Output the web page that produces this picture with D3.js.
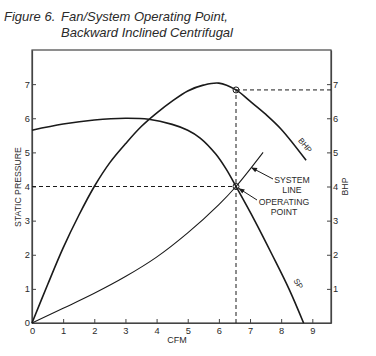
<!DOCTYPE html>
<html><head><meta charset="utf-8">
<script src="https://cdn.jsdelivr.net/npm/d3@7"></script>
<style>
body{margin:0;background:#fff;}
svg{display:block;font-family:"Liberation Sans",Arial,sans-serif;}
</style></head>
<body><svg id="c" width="376" height="356"></svg>
<script>
// ---- data ----
const xTicks = [0,1,2,3,4,5,6,7,8,9];
const leftTicks = [0,1,2,3,4,5,6,7];
const rightTicks = [1,2,3,4,5,6,7];
const spX  = [0,1,2,3,3.75,4.5,5,5.4,5.9,6.24,6.55,7.15,7.71,8.25,8.72];
const spY  = [5.65,5.83,5.95,6.0,5.97,5.82,5.65,5.42,4.95,4.5,4.0,3.0,2.0,1.0,0];
const bhpX = [0,0.5,1,1.5,2,2.5,3,3.5,4,4.5,5,5.5,6,6.55,7,7.5,8,8.8];
const bhpY = [0,1.12,2.2,3.15,4.0,4.7,5.25,5.75,6.15,6.5,6.8,6.97,7.03,6.83,6.5,6.12,5.68,4.77];
const sysX = [0,1,2,3,4,5,6,6.55,7.42];
const sysY = [0,0.43,0.87,1.36,1.93,2.64,3.47,4.0,5.0];
const opCFM = 6.55, opSP = 4.0, opBHP = 6.83;
const titleLines = ["Figure 6.", "Fan/System Operating Point,", "Backward Inclined Centrifugal"];

// ---- layout ----
const svg = d3.select("#c");
const L = 32, R = 331, T = 50, B = 323;
const x = d3.scaleLinear().domain([0, 9.6]).range([L, R]);
const y = d3.scaleLinear().domain([0, 8]).range([B, T]);
const ink = "#1a1a1a", txt = "#2a2a2a";

// title
const tt = svg.append("g").attr("font-style","italic").attr("font-size",13).attr("fill",txt);
tt.append("text").attr("x",4).attr("y",21).text(titleLines[0]);
tt.append("text").attr("x",61).attr("y",21).text(titleLines[1]);
tt.append("text").attr("x",61).attr("y",37).text(titleLines[2]);

// frame
svg.append("rect").attr("x",L).attr("y",T).attr("width",R-L).attr("height",B-T)
  .attr("fill","none").attr("stroke","#444").attr("stroke-width",1.2);

// axes
const fs = 9.3;
const ax = svg.append("g").attr("transform",`translate(0,${B})`)
  .call(d3.axisBottom(x).tickValues(xTicks).tickFormat(d3.format("d")).tickSizeInner(-4).tickSizeOuter(0).tickPadding(4));
const ay = svg.append("g").attr("transform",`translate(${L},0)`)
  .call(d3.axisLeft(y).tickValues(leftTicks).tickFormat(d3.format("d")).tickSizeInner(-4).tickSizeOuter(0).tickPadding(2));
const ar = svg.append("g").attr("transform",`translate(${R},0)`)
  .call(d3.axisRight(y).tickValues(rightTicks).tickFormat(d3.format("d")).tickSizeInner(-4).tickSizeOuter(0).tickPadding(2));
[ax,ay,ar].forEach(g=>{
  g.select(".domain").attr("stroke","#444").attr("stroke-width",1.2);
  g.selectAll(".tick line").attr("stroke","#444");
  g.selectAll(".tick text").attr("font-size",fs).attr("fill",txt).attr("font-family","Liberation Sans, Arial, sans-serif");
});

// axis titles
svg.append("text").attr("x",177).attr("y",343).attr("text-anchor","middle")
  .attr("font-size",9).attr("fill",txt).text("CFM");
svg.append("text").attr("transform",`translate(21,187) rotate(-90)`)
  .attr("text-anchor","middle").attr("font-size",8.7).attr("fill",txt).text("STATIC PRESSURE");
svg.append("text").attr("transform",`translate(348,${y(4)}) rotate(-90)`)
  .attr("text-anchor","middle").attr("font-size",8.7).attr("fill",txt).text("BHP");

// dashed guides
const dash = "4,3";
svg.append("line").attr("x1",x(0)).attr("x2",x(opCFM)).attr("y1",y(opSP)).attr("y2",y(opSP))
  .attr("stroke",ink).attr("stroke-dasharray",dash);
svg.append("line").attr("x1",x(opCFM)).attr("x2",x(opCFM)).attr("y1",y(0)).attr("y2",y(opBHP))
  .attr("stroke",ink).attr("stroke-dasharray",dash);
svg.append("line").attr("x1",x(opCFM)).attr("x2",R).attr("y1",y(opBHP)).attr("y2",y(opBHP))
  .attr("stroke",ink).attr("stroke-dasharray",dash);

// curves
const line = d3.line().x(d=>x(d[0])).y(d=>y(d[1])).curve(d3.curveCatmullRom.alpha(0.5));
svg.append("path").attr("d", line(d3.zip(spX, spY))).attr("fill","none").attr("stroke",ink).attr("stroke-width",1.6);
svg.append("path").attr("d", line(d3.zip(bhpX, bhpY))).attr("fill","none").attr("stroke",ink).attr("stroke-width",1.6);
svg.append("path").attr("d", line(d3.zip(sysX, sysY))).attr("fill","none").attr("stroke",ink).attr("stroke-width",1.1);

// operating point circles
[opSP, opBHP].forEach(v=>{
  svg.append("circle").attr("cx",x(opCFM)).attr("cy",y(v)).attr("r",3)
    .attr("fill","none").attr("stroke",ink).attr("stroke-width",1);
});

// arrows
const defs = svg.append("defs");
defs.append("marker").attr("id","ah").attr("viewBox","0 0 10 10").attr("refX",9).attr("refY",5)
  .attr("markerWidth",7).attr("markerHeight",6).attr("orient","auto")
  .append("path").attr("d","M0,1 L10,5 L0,9 Z").attr("fill",ink);
svg.append("line").attr("x1",273).attr("y1",179).attr("x2",x(7.05)).attr("y2",y(4.55))
  .attr("stroke",ink).attr("stroke-width",1).attr("marker-end","url(#ah)");
svg.append("line").attr("x1",257).attr("y1",200).attr("x2",x(opCFM)+3).attr("y2",y(opSP)+2)
  .attr("stroke",ink).attr("stroke-width",1).attr("marker-end","url(#ah)");

// annotations
const an = svg.append("g").attr("font-size",8.7).attr("fill",txt).attr("text-anchor","middle");
an.append("text").attr("x",292).attr("y",183).text("SYSTEM");
an.append("text").attr("x",292).attr("y",193).text("LINE");
an.append("text").attr("x",284).attr("y",205).text("OPERATING");
an.append("text").attr("x",284).attr("y",215).text("POINT");

svg.append("text").attr("transform",`translate(303,147) rotate(50)`).attr("text-anchor","middle")
  .attr("font-size",8).attr("fill",txt).text("BHP");
svg.append("text").attr("transform",`translate(296,285) rotate(60)`).attr("text-anchor","middle")
  .attr("font-size",8).attr("fill",txt).text("SP");
</script></body></html>
